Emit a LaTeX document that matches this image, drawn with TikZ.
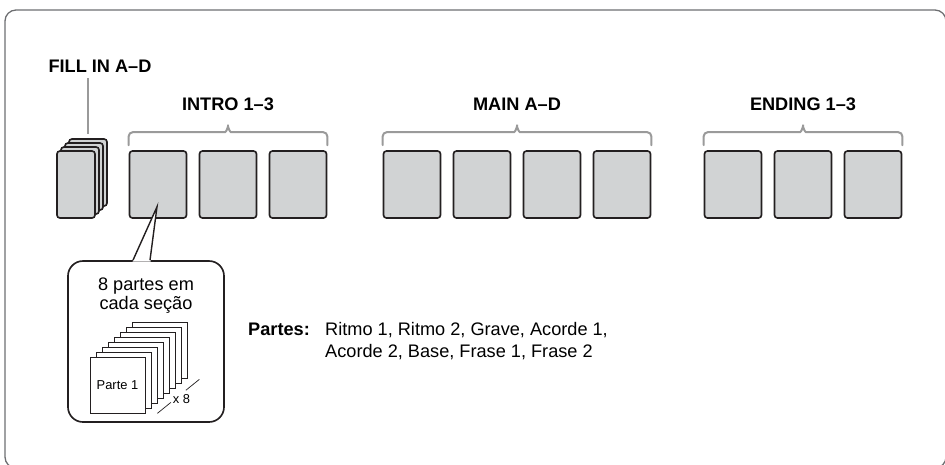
\documentclass[tikz,border=0pt]{standalone}
\usepackage{fontspec}
\setmainfont{Liberation Sans}
\usetikzlibrary{positioning, calc}
\definecolor{boxfill}{HTML}{D1D3D4}
\definecolor{boxline}{HTML}{231F20}
\definecolor{bracegray}{HTML}{9A9A9A}
\definecolor{framegray}{HTML}{6D6E71}

\begin{document}
\begin{tikzpicture}[x=0.03cm, y=-0.03cm,
    secbox/.style={draw=boxline, fill=boxfill, line width=1.4pt, rounded corners=2.5pt,
                   minimum width=1.71cm, minimum height=2.01cm, inner sep=0pt},
    fillbox/.style={secbox, minimum width=1.14cm},
    page/.style={draw=boxline, fill=white, line width=0.6pt, minimum width=1.65cm,
                 minimum height=1.68cm, inner sep=0pt, font=\fontsize{11}{13}\selectfont},
    hdr/.style={font=\fontsize{15.5}{18}\selectfont\bfseries, inner sep=1pt},
    txt/.style={font=\fontsize{15.5}{18.8}\selectfont, inner sep=0pt},
    brace/.style={draw=bracegray, line width=1.7pt, line cap=round, rounded corners=3.5pt},
    lead/.style={draw=bracegray, line width=1.7pt},
    frame/.style={draw=framegray, line width=1.1pt, rounded corners=0.33cm},
    bubble/.style={draw=boxline, fill=white, line width=1.4pt, rounded corners=0.45cm,
                   minimum width=4.68cm, minimum height=4.83cm, inner sep=0pt},
]

% Positions
\pgfmathsetmacro{\yRow}{184.5}
\pgfmathsetmacro{\xIntro}{158}
\pgfmathsetmacro{\xMain}{412}
\pgfmathsetmacro{\xEnding}{733}
\pgfmathsetmacro{\dx}{70}

\useasboundingbox (0,0) rectangle (945,464);

% ===== FRAME =====
\draw[frame] (5,10) rectangle (946,468);

% ===== FILL IN STACK =====
\foreach \k in {3,2,1}
    \node[fillbox] (fill\k) at ({76+4*\k}, {\yRow-4*\k}) {};
\node[fillbox] (fill0) at (76, \yRow) {};
\node[hdr] (filllbl) at (100,66) {FILL IN A–D};
\draw[lead, shorten <=4pt] (filllbl.south -| fill3.north) -- ([yshift=3.5pt]fill3.north);

% ===== SECTION BOXES =====
\foreach \i in {1,2,3}
    \node[secbox] (intro\i) at ({\xIntro+(\i-1)*\dx}, \yRow) {};
\foreach \i in {1,2,3,4}
    \node[secbox] (main\i) at ({\xMain+(\i-1)*\dx}, \yRow) {};
\foreach \i in {1,2,3}
    \node[secbox] (ending\i) at ({\xEnding+(\i-1)*\dx}, \yRow) {};

% ===== BRACES AND HEADERS =====
\foreach \first/\last/\nm/\lbl in {intro1/intro3/intro/INTRO 1–3,
                                   main1/main4/main/MAIN A–D,
                                   ending1/ending3/ending/ENDING 1–3} {
    \coordinate (\nm-l) at ($(\first.north west)+(0,-5)$);
    \coordinate (\nm-r) at ($(\last.north east)+(0,-5)$);
    \coordinate (\nm-m) at ($(\nm-l)!0.5!(\nm-r)+(0,-13)$);
    \draw[brace] (\nm-l) |- ($(\nm-m)+(-7,0)$)
        .. controls ($(\nm-m)+(-2,0)$) and ($(\nm-m)+(0,-5)$) .. ($(\nm-m)+(0,-10)$)
        .. controls ($(\nm-m)+(0,-5)$) and ($(\nm-m)+(2,0)$) .. ($(\nm-m)+(7,0)$)
        -| (\nm-r);
    \node[hdr] (\nm-lbl) at ($(\nm-m)+(0,-28)$) {\lbl};
}

% ===== CALLOUT =====
\node[bubble] (bubble) at (146,341.5) {};
\coordinate (tip) at ($(intro1.south)+(-1,-12)$);
\fill[white] ($(bubble.north)+(-13.5,1.5)$) -- (tip) -- ($(bubble.north)+(4.5,1.5)$) -- cycle;
\draw[draw=boxline, line width=1.2pt] ($(bubble.north)+(-13,0)$) -- (tip) -- ($(bubble.north)+(4,0)$);
\node[txt, font=\fontsize{15.5}{16.5}\selectfont, align=center, anchor=north] (bubbletxt)
    at ($(bubble.north)+(0,17)$) {8 partes em\\cada seção};

% Stack of parts
\foreach \k in {7,6,...,1}
    \node[page] (page\k) at ({117.5+6*\k}, {385-5*\k}) {};
\node[page] (page0) at (117.5,385) {Parte 1};
\coordinate (dimA) at ($(page0.south east)+(12,0)$);
\coordinate (dimB) at ($(page7.south east)+(12,1)$);
\draw[boxline, line width=0.6pt] (dimA) -- ($(dimA)!0.32!(dimB)$)
    ($(dimA)!0.68!(dimB)$) -- (dimB);
\node[page, draw=none, fill=none, minimum width=0pt, minimum height=0pt] (times)
    at ($(dimA)!0.5!(dimB)+(3,3)$) {x 8};

% ===== PARTS LIST =====
\node[txt, font=\fontsize{15.5}{18.8}\selectfont\bfseries, anchor=base west] (partes)
    at (248,335) {Partes:};
\node[txt, anchor=base west] (partlist) at (325,335)
    {\begin{tabular}[t]{@{}l@{}}Ritmo 1, Ritmo 2, Grave, Acorde 1,\\
     Acorde 2, Base, Frase 1, Frase 2\end{tabular}};

\end{tikzpicture}
\end{document}
